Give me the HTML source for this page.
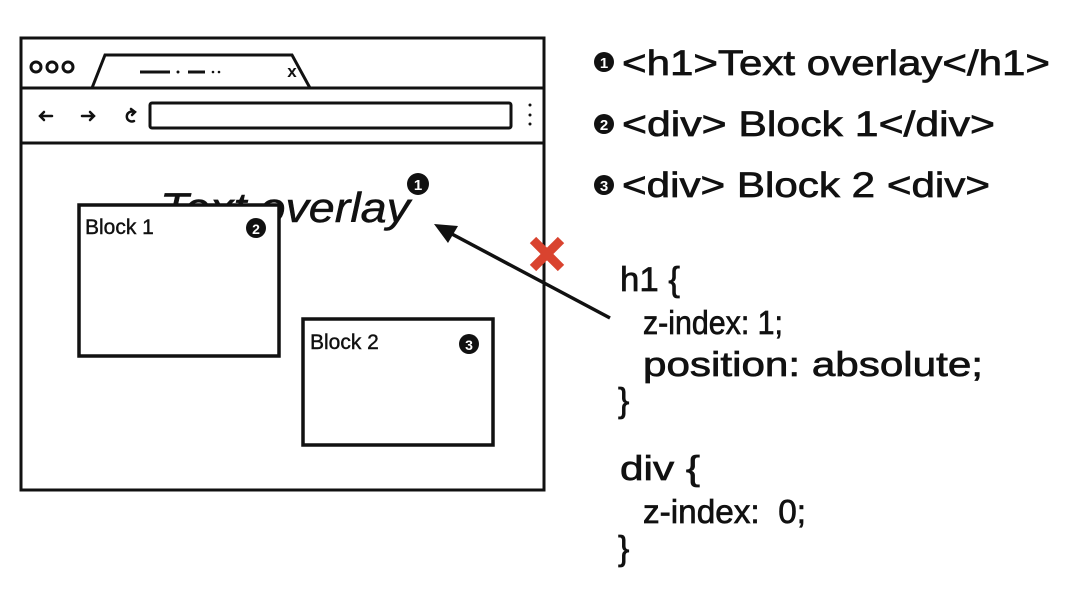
<!DOCTYPE html>
<html><head><meta charset="utf-8"><style>html,body{margin:0;padding:0;background:#fff}svg{display:block}</style></head>
<body>
<svg width="1066" height="590" viewBox="0 0 1066 590" xmlns="http://www.w3.org/2000/svg" font-family="Liberation Sans, sans-serif">
<rect width="1066" height="590" fill="#fff"/>
<g fill="none" stroke="#111" stroke-width="3">
<rect x="21" y="38" width="523" height="452"/>
<line x1="21" y1="88" x2="544" y2="88"/>
<line x1="21" y1="143" x2="544" y2="143"/>
<path d="M92 88 L105 55 L292 55 L310 88"/>
<rect x="150" y="103" width="361" height="25" rx="2"/>
<circle cx="36" cy="67" r="5"/><circle cx="52" cy="67" r="5"/><circle cx="68" cy="67" r="5"/>
<line x1="140" y1="72" x2="170" y2="72"/><line x1="188" y1="72" x2="205" y2="72"/>
</g>
<g fill="#111"><circle cx="178" cy="72" r="1.5"/><circle cx="213" cy="72" r="1.3"/><circle cx="219" cy="72" r="1.3"/>
<circle cx="530" cy="105" r="1.5"/><circle cx="530" cy="115" r="1.5"/><circle cx="530" cy="124" r="1.5"/></g>
<text x="292" y="77" font-size="17" font-weight="bold" text-anchor="middle" fill="#111">x</text>
<g fill="none" stroke="#111" stroke-width="2.5" stroke-linecap="round">
<path d="M40 116 H52 M44 112 L40 116 L44 120"/>
<path d="M82 116 H94 M90 112 L94 116 L90 120"/>
<path d="M134 112 A5 5 0 1 0 134 121"/><path d="M131 109 L135 112 L132 115"/>
</g>
<text x="160" y="222" font-size="42" font-style="italic" fill="#111" stroke="#111" stroke-width="0.5" textLength="250" lengthAdjust="spacingAndGlyphs">Text overlay</text>
<circle cx="418" cy="184" r="11" fill="#111"/><text x="418" y="190" font-size="15" font-weight="bold" fill="#fff" text-anchor="middle">1</text>
<rect x="79" y="205" width="200" height="151" fill="#fff" stroke="#111" stroke-width="3.5"/>
<text x="85" y="234" font-size="21" fill="#111" stroke="#111" stroke-width="0.4">Block 1</text>
<circle cx="256" cy="228" r="10" fill="#111"/><text x="256" y="234" font-size="14" font-weight="bold" fill="#fff" text-anchor="middle">2</text>
<rect x="303" y="319" width="190" height="126" fill="#fff" stroke="#111" stroke-width="3.5"/>
<text x="310" y="349" font-size="21" fill="#111" stroke="#111" stroke-width="0.4">Block 2</text>
<circle cx="469" cy="344" r="10" fill="#111"/><text x="469" y="350" font-size="14" font-weight="bold" fill="#fff" text-anchor="middle">3</text>
<line x1="610" y1="318" x2="450" y2="233" stroke="#111" stroke-width="3.5"/>
<polygon points="434,224 458,226 448,243" fill="#111"/>
<g stroke="#d9432f" stroke-width="9"><line x1="533" y1="240" x2="561" y2="268"/><line x1="561" y1="240" x2="533" y2="268"/></g>
<g fill="#111" font-size="35" stroke="#111" stroke-width="0.7">
<text x="622" y="75" textLength="428" lengthAdjust="spacingAndGlyphs">&lt;h1&gt;Text overlay&lt;/h1&gt;</text>
<text x="622" y="136" textLength="373" lengthAdjust="spacingAndGlyphs">&lt;div&gt; Block 1&lt;/div&gt;</text>
<text x="622" y="197" textLength="368" lengthAdjust="spacingAndGlyphs">&lt;div&gt; Block 2 &lt;div&gt;</text>
</g>
<g fill="#111" stroke="none">
<circle cx="604" cy="62" r="10"/><text x="604" y="68" font-size="15" font-weight="bold" fill="#fff" text-anchor="middle">1</text>
<circle cx="604" cy="124" r="10"/><text x="604" y="130" font-size="15" font-weight="bold" fill="#fff" text-anchor="middle">2</text>
<circle cx="604" cy="185" r="10"/><text x="604" y="191" font-size="15" font-weight="bold" fill="#fff" text-anchor="middle">3</text>
</g>
<g fill="#111" font-size="34" stroke="#111" stroke-width="0.7">
<text x="620" y="291" textLength="60" lengthAdjust="spacingAndGlyphs">h1 {</text>
<text x="643" y="334" font-size="33" textLength="140" lengthAdjust="spacingAndGlyphs">z-index: 1;</text>
<text x="643" y="376" textLength="340" lengthAdjust="spacingAndGlyphs">position: absolute;</text>
<text x="618" y="412">}</text>
<text x="620" y="480" textLength="80" lengthAdjust="spacingAndGlyphs">div {</text>
<text x="643" y="523" font-size="33" textLength="163" lengthAdjust="spacingAndGlyphs">z-index:&#160;&#160;0;</text>
<text x="618" y="560">}</text>
</g>
</svg>
</body></html>
